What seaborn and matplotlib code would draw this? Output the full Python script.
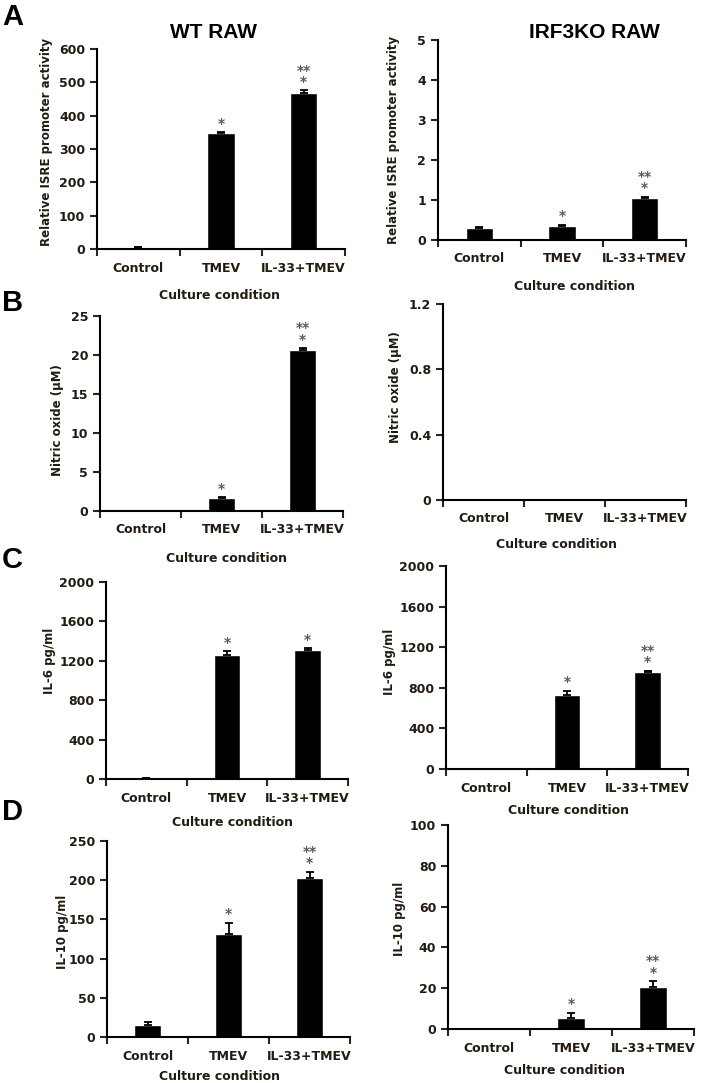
import numpy as np
import pandas as pd
import seaborn as sns
import matplotlib.pyplot as plt

conditions = ["Control", "TMEV", "IL-33+TMEV"]

# panel A: relative ISRE promoter activity
isre_wt = [5, 347, 468]
isre_wt_err = [1, 4, 8]
isre_ko = [0.3, 0.35, 1.05]
isre_ko_err = [0.02, 0.03, 0.03]

# panel B: nitric oxide (uM)
no_wt = [0, 1.7, 20.7]
no_wt_err = [0, 0.1, 0.2]
no_ko = [0, 0, 0]
no_ko_err = [0, 0, 0]

# panel C: IL-6 pg/ml
il6_wt = [8, 1260, 1310]
il6_wt_err = [2, 40, 15]
il6_ko = [0, 730, 955]
il6_ko_err = [0, 40, 15]

# panel D: IL-10 pg/ml
il10_wt = [15, 131, 203]
il10_wt_err = [4, 15, 8]
il10_ko = [0, 5.5, 20.5]
il10_ko_err = [0, 2.5, 3]

# significance marks
stars_a_wt = ["", "*", "**\n*"]
stars_a_ko = ["", "*", "**\n*"]
stars_b_wt = ["", "*", "**\n*"]
stars_b_ko = ["", "", ""]
stars_c_wt = ["", "*", "*"]
stars_c_ko = ["", "*", "**\n*"]
stars_d_wt = ["", "*", "**\n*"]
stars_d_ko = ["", "*", "**\n*"]

sns.set_style("ticks")
plt.rcParams['font.family'] = ['DejaVu Sans']
plt.rcParams['font.weight'] = 'bold'

txt = '#231a10'
W, H = 712, 1083
fig = plt.figure(figsize=(W / 100, H / 100), dpi=100)


def panel(box, vals, errs, stars, ymax, yticks, ylabel, ylab_xy, xlab_xy):
    x0, x1, ytop, ybot = box
    ax = fig.add_axes([x0 / W, 1 - ybot / H, (x1 - x0) / W, (ybot - ytop) / H])
    df = pd.DataFrame({"condition": conditions, "value": vals})
    sns.barplot(data=df, x="condition", y="value", color="black", width=0.33,
                saturation=1, errorbar=None, ax=ax)
    pos = np.arange(len(conditions))
    ax.errorbar(pos, vals, yerr=[np.zeros(len(vals)), errs], fmt='none',
                ecolor='black', elinewidth=1.3, capsize=3, capthick=1.3)
    for i, s in enumerate(stars):
        if s:
            ax.annotate(s, xy=(pos[i], vals[i] + errs[i]), xytext=(0, 1),
                        textcoords='offset points', ha='center', va='bottom',
                        fontsize=10, color='#5a5a5a', linespacing=0.75)
    ax.set_xlim(-0.5, 2.5)
    ax.set_ylim(0, ymax)
    ax.set_yticks(yticks)
    ax.set_yticklabels([f"{t:g}" for t in yticks])
    ax.set_xticks(pos)
    ax.set_xticklabels(conditions)
    ax.set_xticks([-0.5, 0.5, 1.5, 2.5], minor=True)
    ax.tick_params(axis='x', which='major', length=0, pad=9, labelsize=9,
                   labelcolor=txt)
    ax.tick_params(axis='x', which='minor', length=5, width=1.5, direction='out')
    ax.tick_params(axis='y', length=5, width=1.5, direction='out', labelsize=9,
                   labelcolor=txt)
    for sp in ['top', 'right']:
        ax.spines[sp].set_visible(False)
    for sp in ['left', 'bottom']:
        ax.spines[sp].set_linewidth(1.5)
        ax.spines[sp].set_color('black')
    ax.set_ylabel(ylabel, fontsize=8.5, color=txt, va='center', fontweight='bold')
    ax.yaxis.set_label_coords(ylab_xy[0] / W, 1 - ylab_xy[1] / H,
                              transform=fig.transFigure)
    ax.set_xlabel("Culture condition", fontsize=9, color=txt, va='center',
                  fontweight='bold')
    ax.xaxis.set_label_coords(xlab_xy[0] / W, 1 - xlab_xy[1] / H,
                              transform=fig.transFigure)
    ax.set_facecolor('white')
    return ax


panel((97, 345, 49, 249), isre_wt, isre_wt_err, stars_a_wt, 600,
      [0, 100, 200, 300, 400, 500, 600], "Relative ISRE promoter activity",
      (47, 142), (220, 295))
panel((438, 686, 40, 240), isre_ko, isre_ko_err, stars_a_ko, 5,
      [0, 1, 2, 3, 4, 5], "Relative ISRE promoter activity",
      (393, 140), (574, 287))
panel((100, 343, 316, 511), no_wt, no_wt_err, stars_b_wt, 25,
      [0, 5, 10, 15, 20, 25], "Nitric oxide (μM)", (58, 420), (227, 558))
panel((443, 686, 304, 500), no_ko, no_ko_err, stars_b_ko, 1.2,
      [0, 0.4, 0.8, 1.2], "Nitric oxide (μM)", (396, 387), (556, 545))
panel((106, 348, 582, 779), il6_wt, il6_wt_err, stars_c_wt, 2000,
      [0, 400, 800, 1200, 1600, 2000], "IL-6 pg/ml", (50, 661), (232, 823))
panel((446, 688, 566, 769), il6_ko, il6_ko_err, stars_c_ko, 2000,
      [0, 400, 800, 1200, 1600, 2000], "IL-6 pg/ml", (389, 662), (569, 811))
panel((107, 350, 841, 1037), il10_wt, il10_wt_err, stars_d_wt, 250,
      [0, 50, 100, 150, 200, 250], "IL-10 pg/ml", (63, 932), (220, 1077))
panel((448, 694, 825, 1029), il10_ko, il10_ko_err, stars_d_ko, 100,
      [0, 20, 40, 60, 80, 100], "IL-10 pg/ml", (399, 919), (564, 1070))

head = dict(family='Liberation Sans', fontweight='bold', color='black',
            ha='center', va='center')
fig.text(213 / W, 1 - 32 / H, "WT RAW", fontsize=15, **head)
fig.text(594 / W, 1 - 32 / H, "IRF3KO RAW", fontsize=15, **head)

letter = dict(family='Liberation Sans', fontweight='bold', color='black',
              ha='left', va='center', fontsize=21)
fig.text(2 / W, 1 - 17 / H, "A", **letter)
fig.text(2 / W, 1 - 303 / H, "B", **letter)
fig.text(2 / W, 1 - 560 / H, "C", **letter)
fig.text(2 / W, 1 - 812 / H, "D", **letter)

fig.savefig("out.png", dpi=100, facecolor='white')
